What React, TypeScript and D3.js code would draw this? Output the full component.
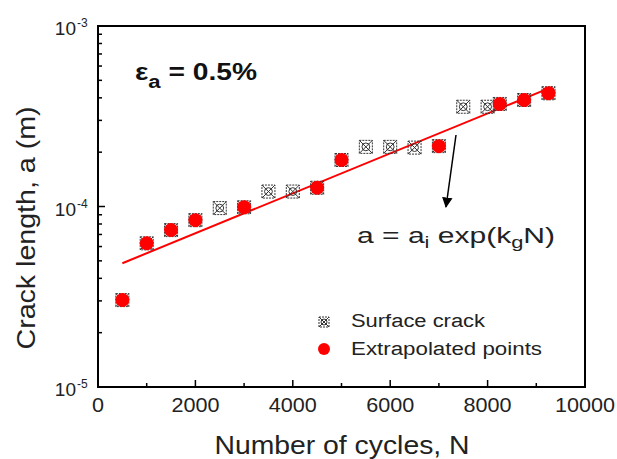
import React from "react";
import * as d3 from "d3";

const surfaceN = [500, 1000, 1500, 2000, 2500, 3000, 3500, 4000, 4500, 5000, 5500, 6000, 6500, 7000, 7500, 8000, 8250, 8750, 9250];
const surfaceA = [3.03e-5, 6.25e-5, 7.4e-5, 8.4e-5, 9.8e-5, 9.9e-5, 1.21e-4, 1.21e-4, 1.27e-4, 1.81e-4, 2.14e-4, 2.14e-4, 2.12e-4, 2.16e-4, 3.57e-4, 3.57e-4, 3.7e-4, 3.89e-4, 4.24e-4];
const extraN = [500, 1000, 1500, 2000, 3000, 4500, 5000, 7000, 8250, 8750, 9250];
const extraA = [3.03e-5, 6.25e-5, 7.4e-5, 8.4e-5, 9.9e-5, 1.27e-4, 1.81e-4, 2.16e-4, 3.7e-4, 3.89e-4, 4.24e-4];
const fitN = [500, 9330];
const fitA = [4.85e-5, 4.6e-4];
const xTicks = [0, 2000, 4000, 6000, 8000, 10000];
const xMinor = [1000, 3000, 5000, 7000, 9000];
const yTicks = [1e-5, 1e-4, 1e-3];
const yTickExp = ["-5", "-4", "-3"];

const W = 617, H = 459;
const L = 98, R = 585, T = 26, B = 387;
const FONT = "'Liberation Sans', Arial, sans-serif";
const TXT = "#222";

function CrossSquare({ x, y, s = 6.5 }: { x: number; y: number; s?: number }) {
  return (
    <g stroke="#333" strokeWidth={1} fill="none">
      <rect x={x - s} y={y - s} width={2 * s} height={2 * s} strokeDasharray="2,1" />
      <line x1={x - s} y1={y - s} x2={x + s} y2={y + s} />
      <line x1={x - s} y1={y + s} x2={x + s} y2={y - s} />
      <circle cx={x} cy={y} r={s * 0.6} />
    </g>
  );
}

export default function App() {
  const x = d3.scaleLinear().domain([0, 10000]).range([L, R]);
  const y = d3.scaleLog().domain([1e-5, 1e-3]).range([B, T]);
  const minorY: number[] = [];
  [1e-5, 1e-4].forEach((d) => {
    for (let k = 2; k <= 9; k++) minorY.push(d * k);
  });
  const line = d3.line<number>().x((_, i) => x(fitN[i])).y((_, i) => y(fitA[i]));

  return (
    <svg width={W} height={H} style={{ position: "absolute", left: 0, top: 0, background: "#fff" }} fontFamily={FONT}>
      <defs>
        <marker id="ah" viewBox="0 0 10 10" refX="9" refY="5" markerWidth="7" markerHeight="10" orient="auto">
          <path d="M0,0 L10,5 L0,10 z" fill="#000" />
        </marker>
      </defs>
      {/* fit line */}
      <path d={line(fitN) || ""} stroke="#f00" strokeWidth={2} fill="none" />
      {/* surface crack markers */}
      {surfaceN.map((n, i) => (
        <CrossSquare key={"s" + i} x={x(n)} y={y(surfaceA[i])} />
      ))}
      {/* extrapolated points */}
      {extraN.map((n, i) => (
        <circle key={"e" + i} cx={x(n)} cy={y(extraA[i])} r={7} fill="#f00" />
      ))}
      {/* frame */}
      <rect x={L} y={T} width={R - L} height={B - T} fill="none" stroke="#000" strokeWidth={2} />
      {/* x ticks */}
      {xTicks.map((t) => (
        <g key={"xt" + t}>
          <line x1={x(t)} x2={x(t)} y1={B} y2={B - 7} stroke="#000" strokeWidth={1.5} />
          <text x={x(t)} y={412} textAnchor="middle" fontSize={20} fill={TXT}
            textLength={String(t).length * 12} lengthAdjust="spacingAndGlyphs">{t}</text>
        </g>
      ))}
      {xMinor.map((t) => (
        <line key={"xm" + t} x1={x(t)} x2={x(t)} y1={B} y2={B - 4} stroke="#000" strokeWidth={1.5} />
      ))}
      {/* y ticks */}
      {yTicks.map((t, i) => (
        <g key={"yt" + i}>
          <line x1={L} x2={L + 7} y1={y(t)} y2={y(t)} stroke="#000" strokeWidth={1.5} />
          <text x={76} y={y(t) + 9} textAnchor="end" fontSize={19} fill={TXT}>10</text>
          <text x={77} y={y(t) + 1} textAnchor="start" fontSize={12} fill={TXT}>{yTickExp[i]}</text>
        </g>
      ))}
      {minorY.map((t, i) => (
        <line key={"ym" + i} x1={L} x2={L + 4} y1={y(t)} y2={y(t)} stroke="#000" strokeWidth={1.5} />
      ))}
      {/* axis labels */}
      <text x={342} y={454} textAnchor="middle" fontSize={26} fill={TXT}
        textLength={255} lengthAdjust="spacingAndGlyphs">Number of cycles, N</text>
      <text transform={`translate(35,228) rotate(-90)`} textAnchor="middle" fontSize={26} fill={TXT}
        textLength={243} lengthAdjust="spacingAndGlyphs">Crack length, a (m)</text>
      {/* annotation */}
      <text x={135} y={80} fontSize={23} fontWeight="bold" fill="#111" textLength={122} lengthAdjust="spacingAndGlyphs">
        <tspan>ε</tspan>
        <tspan fontSize={18} dy={8}>a</tspan>
        <tspan dy={-8}> = 0.5%</tspan>
      </text>
      {/* arrow */}
      <line x1={456} y1={135} x2={446} y2={207} stroke="#000" strokeWidth={1.5} markerEnd="url(#ah)" />
      <text x={357} y={243} fontSize={22} fill={TXT} textLength={198} lengthAdjust="spacingAndGlyphs">
        a = a<tspan fontSize={16} dy={5}>i</tspan>
        <tspan dy={-5}> exp(k</tspan>
        <tspan fontSize={16} dy={5}>g</tspan>
        <tspan dy={-5}>N)</tspan>
      </text>
      {/* legend */}
      <CrossSquare x={324} y={322} s={5} />
      <text x={351} y={327} fontSize={18} fill={TXT} textLength={134} lengthAdjust="spacingAndGlyphs">Surface crack</text>
      <circle cx={324} cy={349} r={6} fill="#f00" />
      <text x={351} y={355} fontSize={18} fill={TXT} textLength={191} lengthAdjust="spacingAndGlyphs">Extrapolated points</text>
    </svg>
  );
}
